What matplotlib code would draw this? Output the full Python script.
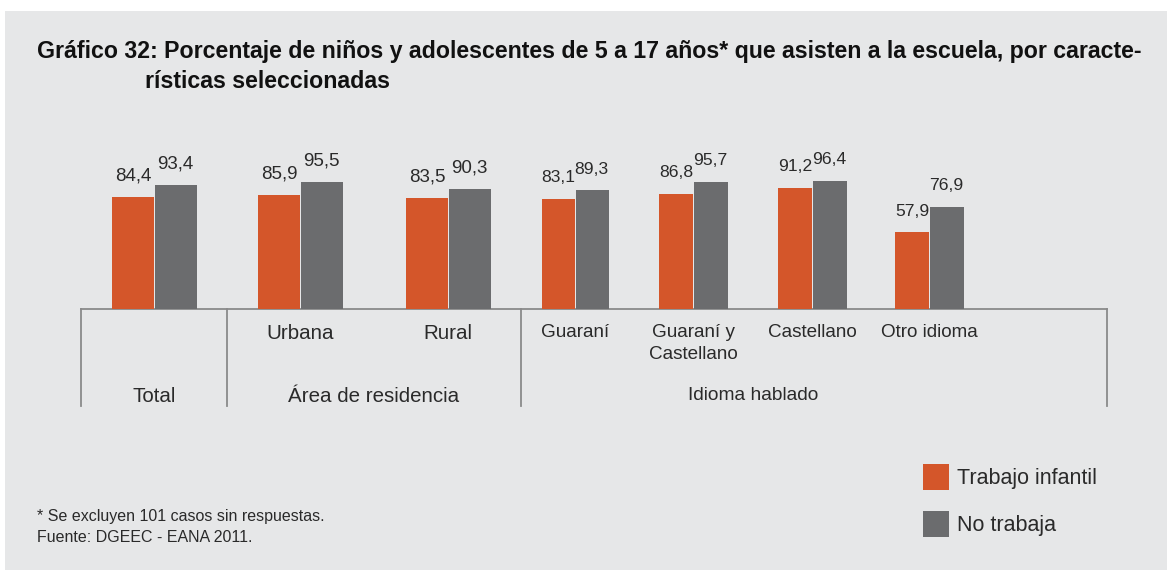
import matplotlib
matplotlib.use('Agg')
import matplotlib.pyplot as plt
from matplotlib.patches import Rectangle

plt.rcParams['font.family'] = ['Liberation Sans', 'DejaVu Sans']

# Data
categories = ['Total', 'Urbana', 'Rural', 'Guaraní', 'Guaraní y\nCastellano', 'Castellano', 'Otro idioma']
trabajo_infantil = [84.4, 85.9, 83.5, 83.1, 86.8, 91.2, 57.9]
no_trabaja = [93.4, 95.5, 90.3, 89.3, 95.7, 96.4, 76.9]
series_names = ['Trabajo infantil', 'No trabaja']
group_names = ['Total', 'Área de residencia', 'Idioma hablado']

title_1 = 'Gráfico 32: Porcentaje de niños y adolescentes de 5 a 17 años* que asisten a la escuela, por caracte-'
title_2 = 'rísticas seleccionadas'
notes = ['* Se excluyen 101 casos sin respuestas.', 'Fuente: DGEEC - EANA 2011.']

# Layout (pixel positions of the original)
W, H = 1169, 570
centers = [154, 300, 448, 575, 693, 812, 929]
widths = [42, 42, 42, 33, 34, 34, 34]
group_x = [154, 374, 753]
separators = [81, 227, 521, 1107]
base_y = 309
px_per_unit = 1.327

orange = '#d4562a'
grey = '#6b6c6e'
bg = '#e6e7e8'
txt = '#2a2a2a'
line_c = '#8a8a8a'

fig = plt.figure(figsize=(W / 100, H / 100), dpi=100)
fig.patch.set_facecolor('white')

# overlay in pixel coordinates for background, table lines and texts
ov = fig.add_axes([0, 0, 1, 1], zorder=0)
ov.set_xlim(0, W)
ov.set_ylim(H, 0)
ov.axis('off')
ov.add_patch(Rectangle((5, 11), 1162, H - 11, color=bg, lw=0))

# bar axes
top_px = 130
ax = fig.add_axes([separators[0] / W, (H - base_y) / H,
                   (separators[-1] - separators[0]) / W, (base_y - top_px) / H], zorder=1)
ax.patch.set_visible(False)
ax.set_xlim(separators[0], separators[-1])
ax.set_ylim(0, (base_y - top_px) / px_per_unit)
for s in ax.spines.values():
    s.set_visible(False)
ax.set_xticks([])
ax.set_yticks([])

gap = 1
for i, c in enumerate(centers):
    w = widths[i]
    fs = 13.5 if w > 40 else 12.6
    ax.bar(c - w / 2 - gap / 2, trabajo_infantil[i], width=w, color=orange,
           label=series_names[0] if i == 0 else None)
    ax.bar(c + w / 2 + gap / 2, no_trabaja[i], width=w, color=grey,
           label=series_names[1] if i == 0 else None)
    for xx, v in [(c - w / 2, trabajo_infantil[i]), (c + w / 2, no_trabaja[i])]:
        ax.annotate(f'{v:.1f}'.replace('.', ','), (xx, v), xytext=(0, 12),
                    textcoords='offset points', ha='center', va='baseline',
                    fontsize=fs, color=txt, annotation_clip=False)

# table lines
ov.plot([separators[0], separators[-1]], [base_y, base_y], color=line_c, lw=1.3)
for sx in separators:
    ov.plot([sx, sx], [base_y, 406], color=line_c, lw=1.3)

# category and group labels (the "Idioma hablado" block is set a bit smaller)
for i, c in enumerate(categories[1:], start=1):
    fs = 14.8 if widths[i] > 40 else 13.6
    ov.text(centers[i], 324, c, ha='center', va='top', fontsize=fs,
            color=txt, linespacing=1.38 if fs < 14 else 1.3)
for j, (gx, g) in enumerate(zip(group_x, group_names)):
    ov.text(gx, 396, g, ha='center', va='center', fontsize=14.8 if j < 2 else 13.8, color=txt)

# title
fig.text(37 / W, 1 - 58 / H, title_1, fontsize=16.7, fontweight='bold', color='#111111', va='baseline')
fig.text(145 / W, 1 - 88 / H, title_2, fontsize=16.7, fontweight='bold', color='#111111', va='baseline')

# notes
fig.text(37 / W, 1 - 517 / H, notes[0], fontsize=11.5, color=txt, va='center')
fig.text(37 / W, 1 - 538 / H, notes[1], fontsize=11.5, color=txt, va='center')

# legend
fig.legend(loc='upper left', bbox_to_anchor=(923 / W, 1 - 464 / H), frameon=False,
           fontsize=15.5, handlelength=1.2, handleheight=1.45, handletextpad=0.4,
           labelspacing=1.0, borderpad=0, borderaxespad=0, labelcolor=txt)

fig.savefig('out.png', dpi=100, facecolor=fig.get_facecolor())
